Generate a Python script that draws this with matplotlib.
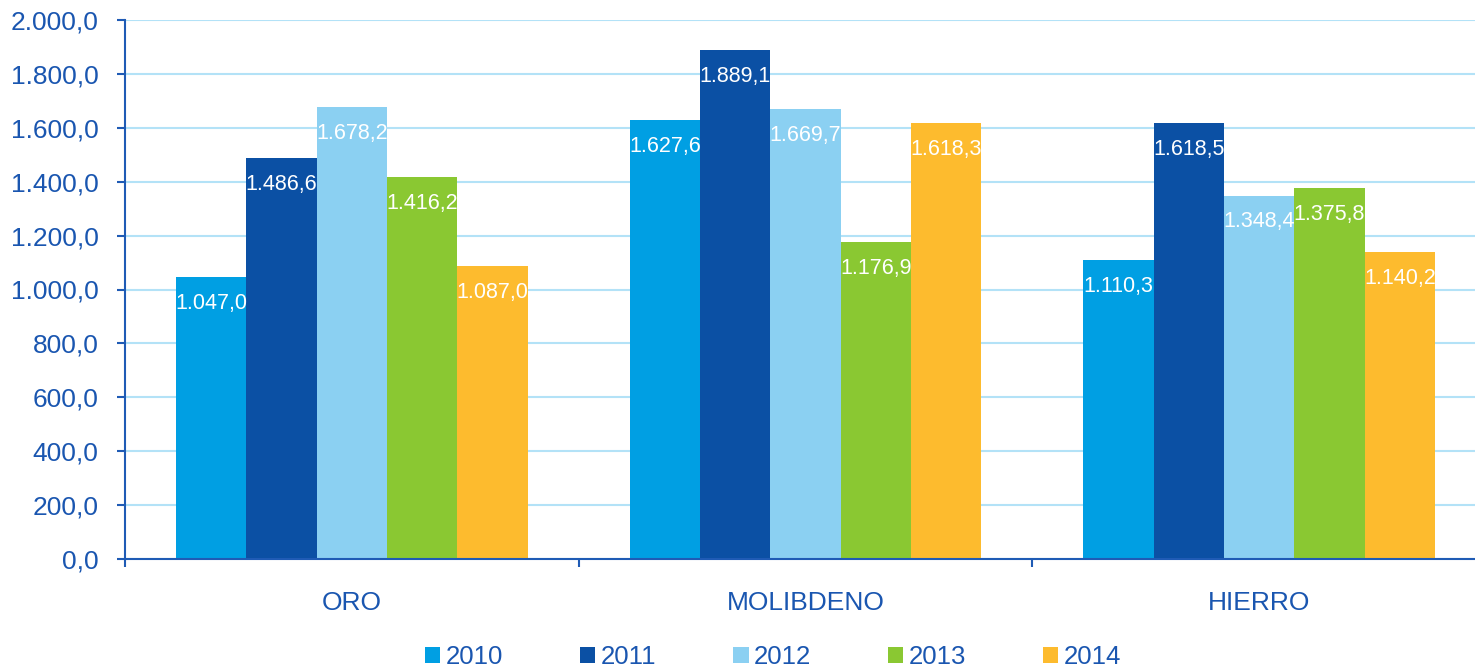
import matplotlib
matplotlib.use("Agg")
import matplotlib.pyplot as plt
import numpy as np
from matplotlib.ticker import FuncFormatter, FixedLocator
from matplotlib.patches import Patch

# Data
categories = ["ORO", "MOLIBDENO", "HIERRO"]
years = ["2010", "2011", "2012", "2013", "2014"]
v2010 = [1047.0, 1627.6, 1110.3]
v2011 = [1486.6, 1889.1, 1618.5]
v2012 = [1678.2, 1669.7, 1348.4]
v2013 = [1416.2, 1176.9, 1375.8]
v2014 = [1087.0, 1618.3, 1140.2]
series = [v2010, v2011, v2012, v2013, v2014]
colors = ["#009FE3", "#0B50A4", "#8BD0F2", "#8AC832", "#FDBB2E"]

text_color = "#1A56B0"
axis_color = "#1F5BB5"
grid_color = "#B3E2F7"

plt.rcParams["font.family"] = ["Liberation Sans", "DejaVu Sans"]


def fmt(v):
    s = f"{v:,.1f}"
    return s.replace(",", "X").replace(".", ",").replace("X", ".")


fig = plt.figure(figsize=(14.75, 6.68), dpi=100)
ax = fig.add_axes([125 / 1475, 1 - 559 / 668, (1486 - 125) / 1475, (559 - 20) / 668])

x = np.arange(len(categories))
width = 0.155
for i, (vals, col) in enumerate(zip(series, colors)):
    pos = x + (i - 2) * width
    ax.bar(pos, vals, width=width, color=col, zorder=2)
    for px, v in zip(pos, vals):
        ax.annotate(fmt(v), (px, v), xytext=(0, -19), textcoords="offset points",
                    ha="center", va="center", color="white", fontsize=15.5, zorder=3)

ax.set_xlim(-0.5, len(categories) - 0.5)
ax.set_ylim(0, 2000)
ax.set_yticks(np.arange(0, 2001, 200))
ax.yaxis.set_major_formatter(FuncFormatter(lambda v, p: fmt(v)))
ax.yaxis.grid(True, color=grid_color, linewidth=1.5, zorder=0)
ax.set_axisbelow(True)

ax.set_xticks(x)
ax.set_xticklabels(categories)
ax.xaxis.set_minor_locator(FixedLocator(np.arange(-0.5, len(categories), 1.0)))
ax.tick_params(axis="x", which="major", length=0, pad=23, labelsize=19, labelcolor=text_color)
ax.tick_params(axis="x", which="minor", length=6, width=1.5, color=axis_color, direction="out")
ax.tick_params(axis="y", length=6, width=1.5, color=axis_color, pad=13,
               labelsize=19, labelcolor=text_color)

for s in ["top", "right"]:
    ax.spines[s].set_visible(False)
for s in ["left", "bottom"]:
    ax.spines[s].set_color(axis_color)
    ax.spines[s].set_linewidth(1.5)

handles = [Patch(facecolor=c, edgecolor="none") for c in colors]
fig.legend(handles, years, loc="center", bbox_to_anchor=(773 / 1475, 1 - 657 / 668),
           ncol=5, frameon=False, fontsize=18.5, handlelength=0.6, handleheight=0.6,
           handletextpad=0.2, columnspacing=3.0, borderpad=0, labelcolor=text_color)

fig.savefig("out.png", dpi=100)
